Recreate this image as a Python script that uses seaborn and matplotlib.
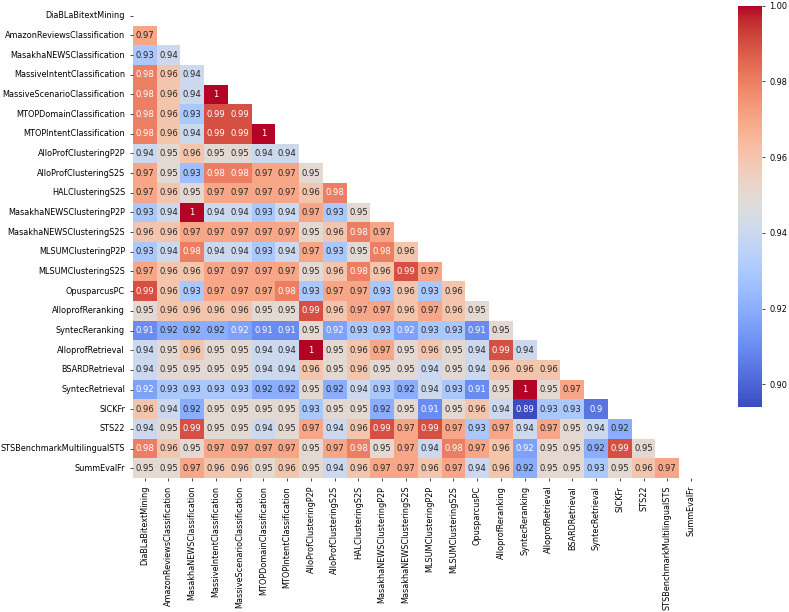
"""Lower-triangle correlation heatmap of French MTEB tasks."""

import matplotlib.pyplot as plt
import numpy as np
import pandas as pd
import seaborn as sns

tasks = [
    "DiaBLaBitextMining",
    "AmazonReviewsClassification",
    "MasakhaNEWSClassification",
    "MassiveIntentClassification",
    "MassiveScenarioClassification",
    "MTOPDomainClassification",
    "MTOPIntentClassification",
    "AlloProfClusteringP2P",
    "AlloProfClusteringS2S",
    "HALClusteringS2S",
    "MasakhaNEWSClusteringP2P",
    "MasakhaNEWSClusteringS2S",
    "MLSUMClusteringP2P",
    "MLSUMClusteringS2S",
    "OpusparcusPC",
    "AlloprofReranking",
    "SyntecReranking",
    "AlloprofRetrieval",
    "BSARDRetrieval",
    "SyntecRetrieval",
    "SICKFr",
    "STS22",
    "STSBenchmarkMultilingualSTS",
    "SummEvalFr",
]

# row i holds the correlations with tasks 0..i-1
lower_rows = [
    [],
    [0.97],
    [0.93, 0.94],
    [0.98, 0.96, 0.94],
    [0.98, 0.96, 0.94, 1.0],
    [0.98, 0.96, 0.93, 0.99, 0.99],
    [0.98, 0.96, 0.94, 0.99, 0.99, 1.0],
    [0.94, 0.95, 0.96, 0.95, 0.95, 0.94, 0.94],
    [0.97, 0.95, 0.926, 0.98, 0.98, 0.97, 0.97, 0.95],
    [0.97, 0.96, 0.95, 0.97, 0.97, 0.97, 0.97, 0.96, 0.98],
    [0.93, 0.94, 1.0, 0.94, 0.94, 0.93, 0.94, 0.97, 0.93, 0.95],
    [0.96, 0.96, 0.97, 0.97, 0.97, 0.97, 0.97, 0.95, 0.96, 0.98, 0.97],
    [0.93, 0.94, 0.98, 0.94, 0.94, 0.93, 0.94, 0.97, 0.93, 0.95, 0.98, 0.96],
    [0.97, 0.96, 0.96, 0.97, 0.97, 0.97, 0.97, 0.95, 0.96, 0.98, 0.96, 0.99, 0.97],
    [0.99, 0.96, 0.93, 0.97, 0.97, 0.97, 0.98, 0.93, 0.97, 0.97, 0.93, 0.96, 0.93, 0.96],
    [0.95, 0.96, 0.96, 0.96, 0.96, 0.95, 0.95, 0.99, 0.96, 0.97, 0.97, 0.96, 0.97, 0.96,
     0.95],
    [0.91, 0.92, 0.92, 0.92, 0.916, 0.91, 0.91, 0.95, 0.916, 0.93, 0.93, 0.916, 0.93, 0.93,
     0.91, 0.95],
    [0.94, 0.95, 0.96, 0.95, 0.95, 0.94, 0.94, 1.0, 0.95, 0.96, 0.97, 0.95, 0.96, 0.95,
     0.94, 0.99, 0.94],
    [0.94, 0.95, 0.95, 0.95, 0.95, 0.94, 0.94, 0.96, 0.95, 0.96, 0.95, 0.95, 0.94, 0.95,
     0.94, 0.96, 0.96, 0.96],
    [0.916, 0.93, 0.93, 0.93, 0.93, 0.92, 0.92, 0.95, 0.92, 0.94, 0.93, 0.92, 0.94, 0.93,
     0.91, 0.95, 1.0, 0.95, 0.97],
    [0.96, 0.94, 0.92, 0.95, 0.95, 0.95, 0.95, 0.93, 0.95, 0.95, 0.92, 0.95, 0.91, 0.95,
     0.96, 0.94, 0.894, 0.93, 0.93, 0.904],
    [0.94, 0.95, 0.99, 0.95, 0.95, 0.94, 0.95, 0.97, 0.94, 0.96, 0.99, 0.97, 0.99, 0.97,
     0.93, 0.97, 0.94, 0.97, 0.95, 0.94, 0.92],
    [0.98, 0.96, 0.95, 0.97, 0.97, 0.97, 0.97, 0.95, 0.97, 0.98, 0.95, 0.97, 0.94, 0.98,
     0.97, 0.96, 0.916, 0.95, 0.95, 0.92, 0.99, 0.95],
    [0.95, 0.95, 0.97, 0.96, 0.96, 0.95, 0.96, 0.95, 0.94, 0.96, 0.97, 0.97, 0.96, 0.97,
     0.94, 0.96, 0.92, 0.95, 0.95, 0.93, 0.95, 0.96, 0.97],
]


def main():
    n = len(tasks)
    corr = np.eye(n)
    for i, row in enumerate(lower_rows):
        for j, value in enumerate(row):
            corr[i, j] = value
            corr[j, i] = value
    corr = pd.DataFrame(corr, index=tasks, columns=tasks)
    mask = np.triu(np.ones_like(corr, dtype=bool))

    plt.rcParams["font.size"] = 6
    fig = plt.figure(figsize=(7.89, 6.12), dpi=100)
    ax = fig.add_axes([0.1683, 0.2188, 0.7226, 0.7716])
    cax = fig.add_axes([0.9357, 0.335, 0.0297, 0.6557])

    sns.heatmap(corr, mask=mask, cmap="coolwarm", annot=True,
                annot_kws={"fontsize": 6.1}, ax=ax, cbar_ax=cax)
    ax.tick_params(labelsize=5.9, length=2.1, width=0.5)
    cax.tick_params(labelsize=5.9, length=2.1, width=0.5)

    fig.savefig("out.png", dpi=100)


if __name__ == '__main__':
    main()
